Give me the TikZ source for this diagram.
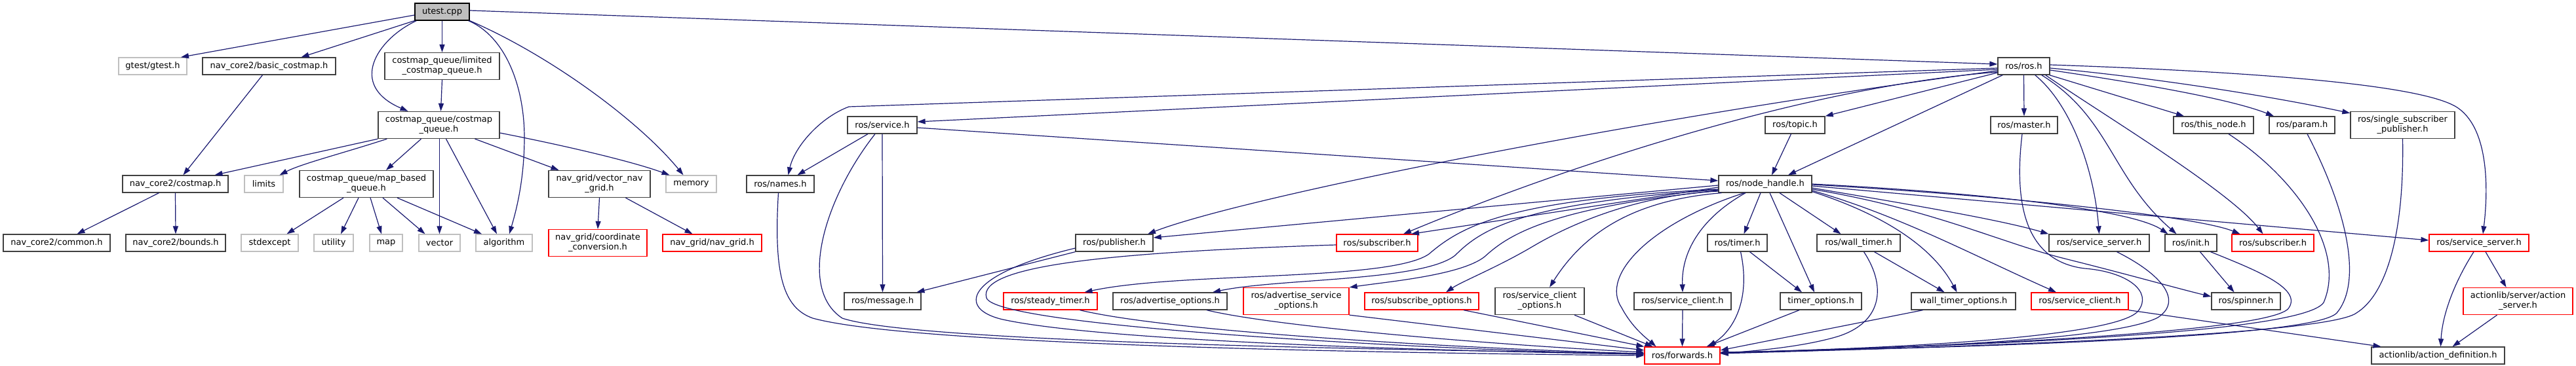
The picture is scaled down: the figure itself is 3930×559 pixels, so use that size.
\documentclass[tikz,border=0pt]{standalone}
\usepackage{fontspec}
\setmainfont{DejaVu Sans}
\usetikzlibrary{arrows.meta}
\definecolor{edgeblue}{HTML}{191970}
\definecolor{boxgray}{HTML}{404040}
\definecolor{lightgraybox}{HTML}{BFBFBF}
\definecolor{boxred}{HTML}{FF0000}
\tikzset{
  nbox/.style={draw=boxgray, fill=white, line width=1.3pt, minimum height=26pt, inner sep=0pt, font=\fontsize{13}{15}\selectfont, align=center},
  rbox/.style={nbox, draw=boxred},
  gbox/.style={nbox, draw=lightgraybox},
  dbl/.style={minimum height=41pt},
  edge/.style={draw=edgeblue, line width=1.2pt, -{Triangle[length=12pt,width=8pt]}},
}
\begin{document}
\begin{tikzpicture}[x=1pt,y=-1pt]
\useasboundingbox (0,0) rectangle (3930,559);
% row 1
\node[nbox, fill=lightgraybox, draw=black, minimum width=83pt] (utest) at (674.5,18) {utest.cpp};
% row 2
\node[gbox, minimum width=104pt] (gtest) at (233,101) {gtest/gtest.h};
\node[nbox, minimum width=203pt] (basic) at (410.5,101) {nav\_core2/basic\_costmap.h};
\node[nbox, dbl, minimum width=175pt] (limited) at (674.5,101) {costmap\_queue/limited\\\_costmap\_queue.h};
\node[nbox, minimum width=79pt] (rosh) at (3087.5,101) {ros/ros.h};
% row 3
\node[nbox, dbl, minimum width=185pt] (cq) at (669.5,191) {costmap\_queue/costmap\\\_queue.h};
\node[nbox, minimum width=106pt] (service) at (1346,191) {ros/service.h};
\node[nbox, minimum width=91pt] (topic) at (2738.5,191) {ros/topic.h};
\node[nbox, minimum width=102pt] (master) at (3088,191) {ros/master.h};
\node[nbox, minimum width=122pt] (thisnode) at (3377,191) {ros/this\_node.h};
\node[nbox, minimum width=100pt] (param) at (3512,191) {ros/param.h};
\node[nbox, dbl, minimum width=159pt] (ssp) at (3665.5,191) {ros/single\_subscriber\\\_publisher.h};
% row 4
\node[nbox, minimum width=161pt] (costmap) at (267.5,281) {nav\_core2/costmap.h};
\node[gbox, minimum width=59pt] (limits) at (402.5,281) {limits};
\node[nbox, dbl, minimum width=204pt] (mbq) at (559,281) {costmap\_queue/map\_based\\\_queue.h};
\node[nbox, dbl, minimum width=155pt] (vng) at (914.5,281) {nav\_grid/vector\_nav\\\_grid.h};
\node[gbox, minimum width=77pt] (memory) at (1054.5,281) {memory};
\node[nbox, minimum width=103pt] (names) at (1190.5,281) {ros/names.h};
\node[nbox, minimum width=142pt] (nh) at (2693,281) {ros/node\_handle.h};
% row 5
\node[nbox, minimum width=163pt] (common) at (86.5,371) {nav\_core2/common.h};
\node[nbox, minimum width=152pt] (bounds) at (268,371) {nav\_core2/bounds.h};
\node[gbox, minimum width=87pt] (stdexcept) at (411.5,371) {stdexcept};
\node[gbox, minimum width=60pt] (utility) at (509,371) {utility};
\node[gbox, minimum width=50pt] (map) at (589,371) {map};
\node[gbox, minimum width=63pt] (vector) at (670.5,371) {vector};
\node[gbox, minimum width=86pt] (algorithm) at (769,371) {algorithm};
\node[rbox, dbl, minimum width=150pt] (coordconv) at (912,371) {nav\_grid/coordinate\\\_conversion.h};
\node[rbox, minimum width=151pt] (navgrid) at (1086.5,371) {nav\_grid/nav\_grid.h};
\node[nbox, minimum width=118pt] (publisher) at (1700,371) {ros/publisher.h};
\node[rbox, minimum width=124pt] (subA) at (2101,371) {ros/subscriber.h};
\node[nbox, minimum width=91pt] (timer) at (2650.5,371) {ros/timer.h};
\node[nbox, minimum width=127pt] (walltimer) at (2835.5,371) {ros/wall\_timer.h};
\node[nbox, minimum width=153pt] (ssA) at (3202.5,371) {ros/service\_server.h};
\node[nbox, minimum width=79pt] (init) at (3342.5,371) {ros/init.h};
\node[rbox, minimum width=125pt] (subB) at (3467.5,371) {ros/subscriber.h};
\node[rbox, minimum width=152pt] (ssB) at (3782,371) {ros/service\_server.h};
% row 6
\node[nbox, minimum width=117pt] (message) at (1346.5,460) {ros/message.h};
\node[rbox, minimum width=143pt] (steady) at (1602.5,460) {ros/steady\_timer.h};
\node[nbox, minimum width=174pt] (advopt) at (1785,460) {ros/advertise\_options.h};
\node[rbox, dbl, minimum width=161pt] (advsvc) at (1977.5,460) {ros/advertise\_service\\\_options.h};
\node[rbox, minimum width=174pt] (subopt) at (2169,460) {ros/subscribe\_options.h};
\node[nbox, dbl, minimum width=136pt] (sco) at (2349,460) {ros/service\_client\\\_options.h};
\node[nbox, minimum width=148pt] (scA) at (2567,460) {ros/service\_client.h};
\node[nbox, minimum width=124pt] (timeropt) at (2778,460) {timer\_options.h};
\node[nbox, minimum width=159pt] (wto) at (2995.5,460) {wall\_timer\_options.h};
\node[rbox, minimum width=148pt] (scB) at (3173,460) {ros/service\_client.h};
\node[nbox, minimum width=105pt] (spinner) at (3426.5,460) {ros/spinner.h};
\node[rbox, dbl, minimum width=167pt] (actserver) at (3841.5,460) {actionlib/server/action\\\_server.h};
% row 7
\node[rbox, minimum width=115pt] (forwards) at (2566.5,543) {ros/forwards.h};
\node[nbox, minimum width=203pt] (actdef) at (3719.5,543) {actionlib/action\_definition.h};

% ---- edges from utest
\draw[edge] ([yshift=-5pt]utest.west) -- ([xshift=43pt]gtest.north);
\draw[edge] (utest.south west) -- ([xshift=49pt]basic.north);
\draw[edge] ([xshift=3pt]utest.south west) .. controls (575,60) and (530,130) .. ([xshift=-47pt]cq.north);
\draw[edge] (utest.south) -- (limited.north);
\draw[edge] ([xshift=-2pt]utest.south east) .. controls (770,55) and (800,130) .. (800,210) .. controls (800,280) and (785,330) .. ([xshift=8pt]algorithm.north);
\draw[edge] (utest.south east) .. controls (840,85) and (975,185) .. ([xshift=-12pt]memory.north);
\draw[edge] ([yshift=2pt]utest.east) -- ([yshift=3pt]rosh.west);
% ---- nav_core2 / costmap_queue
\draw[edge] ([xshift=-10pt]basic.south) -- ([xshift=12pt]costmap.north);
\draw[edge] ([xshift=-25pt]costmap.south) -- ([xshift=31pt]common.north);
\draw[edge] (costmap.south) -- (bounds.north);
\draw[edge] (limited.south) -- ([xshift=3pt]cq.north);
\draw[edge] (cq.south west) -- ([xshift=60pt]costmap.north);
\draw[edge] ([xshift=14pt]cq.south west) .. controls (520,235) and (460,250) .. ([xshift=24pt]limits.north);
\draw[edge] ([xshift=-27pt]cq.south) -- ([xshift=30pt]mbq.north);
\draw[edge] ([xshift=1pt]cq.south) -- (vector.north);
\draw[edge] ([xshift=11pt]cq.south) -- ([xshift=-11pt]algorithm.north);
\draw[edge] ([xshift=55pt]cq.south) -- ([xshift=-62pt]vng.north);
\draw[edge] ([yshift=-12pt]cq.east) .. controls (850,220) and (960,245) .. ([xshift=-33pt]memory.north);
\draw[edge] ([xshift=-35pt]mbq.south) -- ([xshift=26pt]stdexcept.north);
\draw[edge] ([xshift=-12pt]mbq.south) -- ([xshift=11pt]utility.north);
\draw[edge] ([xshift=6pt]mbq.south) -- ([xshift=-7pt]map.north);
\draw[edge] ([xshift=25pt]mbq.south) -- ([xshift=-22pt]vector.north);
\draw[edge] ([xshift=47pt]mbq.south) -- ([xshift=-34pt]algorithm.north);
\draw[edge] (vng.south) -- (coordconv.north);
\draw[edge] ([xshift=40pt]vng.south) -- ([xshift=-30pt]navgrid.north);
% ---- ros/ros.h
\draw[edge] ([yshift=-3pt]rosh.west) -- (1295,163) .. controls (1250,180) and (1212,225) .. ([xshift=12pt]names.north);
\draw[edge] ([yshift=-5pt]rosh.west) -- ([yshift=5pt]service.east);
\draw[edge] ([yshift=-7pt]rosh.west) .. controls (2500,180) and (1900,300) .. ([xshift=51pt]publisher.north);
\draw[edge] ([yshift=-9pt]rosh.west) .. controls (2760,132) and (2391,253) .. ([xshift=40pt]subA.north);
\draw[edge] ([yshift=-10pt]rosh.west) -- (topic.north east);
\draw[edge] ([xshift=8pt]rosh.south west) -- ([xshift=35pt]nh.north);
\draw[edge] (rosh.south) -- (master.north);
\draw[edge] ([xshift=-1pt]rosh.south east) -- ([xshift=-45pt]thisnode.north);
\draw[edge] ([yshift=-6pt]rosh.east) .. controls (3250,125) and (3400,150) .. ([xshift=-43pt]param.north);
\draw[edge] ([yshift=-3pt]rosh.east) .. controls (3300,120) and (3480,150) .. ([yshift=-3pt]ssp.north west);
\draw[edge] ([yshift=2pt]rosh.east) .. controls (3450,110) and (3700,130) .. (3750,165) .. controls (3800,200) and (3795,300) .. ([xshift=6pt]ssB.north);
\draw[edge] ([xshift=-23pt]rosh.south east) .. controls (3160,160) and (3195,260) .. (ssA.north);
\draw[edge] ([xshift=-13pt]rosh.south east) .. controls (3220,180) and (3220,270) .. ([xshift=-22pt]init.north);
\draw[edge] ([xshift=-7pt]rosh.south east) .. controls (3200,170) and (3400,290) .. ([xshift=-15pt]subB.north);
% ---- ros/service.h, names, topic
\draw[edge] ([xshift=-22pt]service.south) -- ([xshift=26pt]names.north);
\draw[edge] (service.south) -- (message.north);
\draw[edge] ([xshift=-11pt]service.south) .. controls (1260,300) and (1215,440) .. (1285,486) .. controls (1400,525) and (2200,535) .. ([yshift=3pt]forwards.west);
\draw[edge] ([yshift=-4pt]service.east) -- ([yshift=5pt]nh.west);
\draw[edge] ([xshift=-3pt]names.south) .. controls (1180,420) and (1195,470) .. (1240,486) .. controls (1400,530) and (2200,540) .. (forwards.west);
\draw[edge] ([xshift=-6pt]topic.south) -- ([xshift=10pt]nh.north);
% ---- right column into forwards
\draw[edge] ([xshift=-3pt]master.south) .. controls (3070,330) and (3100,400) .. (3180,410) .. controls (3245,415) and (3285,445) .. (3262,475) .. controls (3225,520) and (2800,535) .. ([yshift=5pt]forwards.east);
\draw[edge] ([xshift=23pt]thisnode.south) .. controls (3500,270) and (3580,380) .. (3545,462) .. controls (3510,515) and (2900,530) .. ([yshift=4pt]forwards.east);
\draw[edge] ([xshift=8pt]param.south) .. controls (3580,320) and (3605,430) .. (3565,478) .. controls (3525,520) and (2900,532) .. ([yshift=4pt]forwards.east);
\draw[edge] (ssp.south) .. controls (3668,360) and (3640,450) .. (3595,478) .. controls (3545,515) and (2900,532) .. ([yshift=3pt]forwards.east);
% ---- publisher / subscriber
\draw[edge] (publisher.south west) -- ([xshift=52pt]message.north);
\draw[edge] ([yshift=-8pt]publisher.west) .. controls (1470,420) and (1460,472) .. (1530,488) .. controls (1700,525) and (2300,538) .. ([yshift=2pt]forwards.west);
\draw[edge] ([yshift=-3pt]subA.west) .. controls (1700,385) and (1490,405) .. (1505,455) .. controls (1520,500) and (2200,535) .. ([yshift=2pt]forwards.west);
% ---- node_handle
\draw[edge] ([yshift=-2pt]nh.west) -- ([yshift=8pt]publisher.east);
\draw[edge] ([yshift=-5pt]nh.west) -- ([xshift=52pt]subA.north);
\draw[edge] ([yshift=-8pt]nh.west) .. controls (2300,305) and (2230,345) .. (2180,388) .. controls (2120,430) and (1800,415) .. ([xshift=52pt]steady.north);
\draw[edge] ([yshift=-9pt]nh.west) .. controls (2320,310) and (2260,350) .. (2220,390) .. controls (2170,430) and (1950,425) .. ([xshift=65pt]advopt.north);
\draw[edge] ([yshift=-10pt]nh.west) .. controls (2360,318) and (2300,360) .. (2265,392) .. controls (2230,420) and (2120,430) .. (advsvc.north east);
\draw[edge] ([yshift=-11pt]nh.west) .. controls (2500,298) and (2400,340) .. (2339,376) .. controls (2285,408) and (2230,430) .. ([xshift=37pt]subopt.north);
\draw[edge] ([xshift=5pt]nh.south west) .. controls (2500,305) and (2420,350) .. ([xshift=15pt]sco.north);
\draw[edge] ([xshift=-32pt]nh.south) .. controls (2520,340) and (2440,420) .. (2474,470) .. controls (2490,500) and (2510,515) .. ([xshift=-40pt]forwards.north);
\draw[edge] ([xshift=-30pt]nh.south) .. controls (2600,330) and (2565,380) .. (scA.north);
\draw[edge] ([xshift=-7pt]nh.south) -- ([xshift=10pt]timer.north);
\draw[edge] ([xshift=7pt]nh.south) -- ([xshift=-10pt]timeropt.north);
\draw[edge] ([xshift=22pt]nh.south) -- ([xshift=-27pt]walltimer.north);
\draw[edge] ([yshift=2pt]nh.south east) .. controls (2880,330) and (2950,380) .. ([xshift=-10pt]wto.north);
\draw[edge] ([yshift=-6pt]nh.east) .. controls (2900,310) and (3050,335) .. (ssA.north west);
\draw[edge] (nh.east) .. controls (3000,293) and (3250,318) .. ([xshift=-35pt]init.north);
\draw[edge] ([yshift=-1pt]nh.east) .. controls (3050,298) and (3350,330) .. ([xshift=-50pt]subB.north);
\draw[edge] ([yshift=-3pt]nh.east) -- ([yshift=4pt]ssB.west);
\draw[edge] ([yshift=-10pt]nh.east) .. controls (2900,330) and (3010,390) .. ([xshift=-36pt]scB.north);
\draw[edge] ([yshift=-8pt]nh.east) .. controls (2950,320) and (3050,370) .. (3150,395) .. controls (3250,420) and (3320,440) .. ([yshift=7pt]spinner.west);
% ---- timers
\draw[edge] ([xshift=5pt]timer.south) .. controls (2670,450) and (2650,500) .. ([xshift=40pt]forwards.north);
\draw[edge] ([xshift=19pt]timer.south) -- ([xshift=-29pt]timeropt.north);
\draw[edge] ([xshift=8pt]walltimer.south) .. controls (2880,440) and (2870,495) .. (2800,515) .. controls (2740,532) and (2660,537) .. ([yshift=3pt]forwards.east);
\draw[edge] ([xshift=24pt]walltimer.south) -- ([xshift=-29pt]wto.north);
\draw[edge] (scA.south) -- (forwards.north);
\draw[edge] ([xshift=-33pt]timeropt.south) -- ([xshift=37pt]forwards.north);
\draw[edge] ([xshift=-62pt]wto.south) -- ([yshift=8pt]forwards.east);
% ---- options into forwards
\draw[edge] ([xshift=53pt]sco.south) -- ([xshift=-45pt]forwards.north);
\draw[edge] ([xshift=64pt]subopt.south) -- (forwards.north west);
\draw[edge] (advsvc.south east) -- ([yshift=8pt]forwards.west);
\draw[edge] ([xshift=56pt]advopt.south) .. controls (1950,500) and (2300,528) .. ([yshift=5pt]forwards.west);
\draw[edge] ([xshift=45pt]steady.south) .. controls (1800,510) and (2300,535) .. ([yshift=3pt]forwards.west);
% ---- init, service servers, actionlib
\draw[edge] ([xshift=14pt]init.south) -- ([xshift=-18pt]spinner.north);
\draw[edge] ([xshift=30pt]init.south) .. controls (3440,412) and (3512,440) .. (3492,470) .. controls (3470,510) and (2900,532) .. ([yshift=4pt]forwards.east);
\draw[edge] ([xshift=27pt]ssA.south) .. controls (3300,420) and (3330,460) .. (3292,485) .. controls (3225,520) and (2900,532) .. ([yshift=4pt]forwards.east);
\draw[edge] (scB.south east) -- ([xshift=-87pt]actdef.north);
\draw[edge] ([xshift=-8pt]ssB.south) .. controls (3745,430) and (3726,480) .. ([xshift=4pt]actdef.north);
\draw[edge] ([xshift=10pt]ssB.south) -- ([xshift=-18pt]actserver.north);
\draw[edge] ([xshift=-32pt]actserver.south) -- ([xshift=22pt]actdef.north);
\end{tikzpicture}
\end{document}
